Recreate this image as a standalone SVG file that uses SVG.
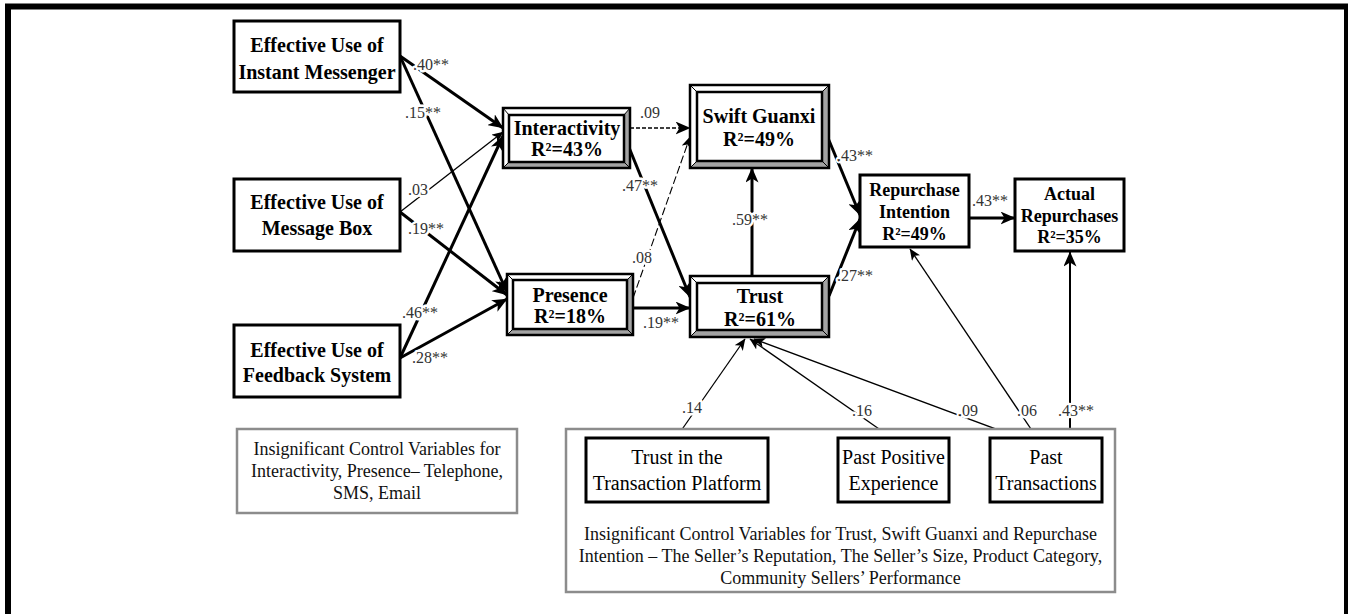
<svg xmlns="http://www.w3.org/2000/svg" width="1348" height="614" viewBox="0 0 1348 614">
<style>
.box{fill:#fff;stroke:#000;stroke-width:3}
.gbox{fill:#fff;stroke:#8c8c8c;stroke-width:2.5}
.bandg{fill:#a3a3a3;stroke:none}
.bandw{fill:#fff;stroke:none}
.bo{fill:none;stroke:#000;stroke-width:2.5}
.bi{fill:#fff;stroke:#000;stroke-width:2.5}
.dg{stroke:#000;stroke-width:1;fill:none}
.tb{font-family:"Liberation Serif",serif;font-weight:bold;font-size:20px;text-anchor:middle;fill:#000}
.tb18{font-family:"Liberation Serif",serif;font-weight:bold;font-size:18px;text-anchor:middle;fill:#000}
.tr{font-family:"Liberation Serif",serif;font-size:20px;text-anchor:middle;fill:#000}
.tc{font-family:"Liberation Serif",serif;font-size:18px;text-anchor:middle;fill:#111}
.lb{font-family:"Liberation Serif",serif;font-size:16px;fill:#333;stroke:#fff;stroke-width:5;stroke-linejoin:round;paint-order:stroke}
.thick{stroke:#000;stroke-width:3;fill:none;marker-end:url(#ah)}
.mid{stroke:#000;stroke-width:2;fill:none;marker-end:url(#ah)}
.thin{stroke:#000;stroke-width:1.3;fill:none;marker-end:url(#as)}
.dash1{stroke:#000;stroke-width:1.6;fill:none;stroke-dasharray:4 2;marker-end:url(#ah)}
.dash2{stroke:#000;stroke-width:1.1;fill:none;stroke-dasharray:8 3;marker-end:url(#as)}
</style>
<defs>
<marker id="ah" markerUnits="userSpaceOnUse" markerWidth="16" markerHeight="13" refX="14.5" refY="6.5" orient="auto">
<path d="M0,0 L15,6.5 L0,13 L4,6.5 Z" fill="#000"/>
</marker>
<marker id="as" markerUnits="userSpaceOnUse" markerWidth="12" markerHeight="10" refX="11" refY="5" orient="auto">
<path d="M0,0 L11.5,5 L0,10 L3,5 Z" fill="#000"/>
</marker>
</defs>
<rect x="0" y="0" width="1348" height="614" fill="#fff"/>
<rect x="8" y="6.5" width="1339" height="700" fill="none" stroke="#000" stroke-width="6"/>

<g id="connectors">
<path class="thick" d="M400,56 L503,128"/>
<path class="thick" d="M400,56 L507,292"/>
<path class="thin" d="M400,212 L503,132"/>
<path class="thick" d="M400,212 L507,295"/>
<path class="thick" d="M400,358 L503,136"/>
<path class="thick" d="M400,358 L507,299"/>
<path class="dash1" d="M630,128 L690,128"/>
<path class="thick" d="M628,145 L690,297"/>
<path class="dash2" d="M633,298 L690,137"/>
<path class="thick" d="M633,308 L690,308"/>
<path class="thick" d="M752,276 L752,168"/>
<path class="thick" d="M828,138 L860,215"/>
<path class="thick" d="M829,296 L860,219"/>
<path class="thick" d="M969,218 L1015,218"/>
<path class="thin" d="M676,438 L745,339"/>
<path class="thin" d="M892,438 L750,339"/>
<path class="thin" d="M1020,438 L754,339"/>
<path class="thin" d="M1037,438 L910,249"/>
<path class="mid" d="M1070,438 L1070,252"/>
<text class="lb" x="413" y="70">.40**</text>
<text class="lb" x="405" y="118">.15**</text>
<text class="lb" x="408" y="195">.03</text>
<text class="lb" x="408" y="234">.19**</text>
<text class="lb" x="402" y="318">.46**</text>
<text class="lb" x="412" y="363">.28**</text>
<text class="lb" x="640" y="118">.09</text>
<text class="lb" x="622" y="191">.47**</text>
<text class="lb" x="632" y="263">.08</text>
<text class="lb" x="643" y="328">.19**</text>
<text class="lb" x="732" y="225">.59**</text>
<text class="lb" x="837" y="161">.43**</text>
<text class="lb" x="837" y="281">.27**</text>
<text class="lb" x="972" y="206">.43**</text>
<text class="lb" x="682" y="413">.14</text>
<text class="lb" x="852" y="416">.16</text>
<text class="lb" x="958" y="416">.09</text>
<text class="lb" x="1017" y="416">.06</text>
<text class="lb" x="1058" y="416">.43**</text>
</g>

<g id="im">
<rect class="box" x="234" y="21" width="166" height="71"/>
<text class="tb" x="317" y="52">Effective Use of</text>
<text class="tb" x="317" y="79">Instant Messenger</text>
</g>
<g id="mb">
<rect class="box" x="234" y="179" width="166" height="72"/>
<text class="tb" x="317" y="209">Effective Use of</text>
<text class="tb" x="317" y="235">Message Box</text>
</g>
<g id="fb">
<rect class="box" x="234" y="325" width="166" height="72"/>
<text class="tb" x="317" y="357">Effective Use of</text>
<text class="tb" x="317" y="382">Feedback System</text>
</g>

<g id="interactivity">
<rect class="bandg" x="503" y="108" width="127" height="60"/>
<polygon class="bandw" points="503,108 630,108 624,115 509,115 509,162 503,168"/>
<rect class="bo" x="503" y="108" width="127" height="60"/>
<path class="dg" d="M503,108 L509,115 M630,108 L624,115 M630,168 L624,162 M503,168 L509,162"/>
<rect class="bi" x="509" y="115" width="115" height="47"/>
<text class="tb" x="567" y="135">Interactivity</text>
<text class="tb" x="567" y="156">R²=43%</text>
</g>
<g id="swiftguanxi">
<rect class="bandg" x="690" y="85" width="139" height="83"/>
<polygon class="bandw" points="690,85 829,85 822,92 697,92 697,161 690,168"/>
<rect class="bo" x="690" y="85" width="139" height="83"/>
<path class="dg" d="M690,85 L697,92 M829,85 L822,92 M829,168 L822,161 M690,168 L697,161"/>
<rect class="bi" x="697" y="92" width="125" height="69"/>
<text class="tb" x="759" y="123">Swift Guanxi</text>
<text class="tb" x="759" y="146">R²=49%</text>
</g>
<g id="presence">
<rect class="bandg" x="507" y="274" width="126" height="61"/>
<polygon class="bandw" points="507,274 633,274 627,280 513,280 513,329 507,335"/>
<rect class="bo" x="507" y="274" width="126" height="61"/>
<path class="dg" d="M507,274 L513,280 M633,274 L627,280 M633,335 L627,329 M507,335 L513,329"/>
<rect class="bi" x="513" y="280" width="114" height="49"/>
<text class="tb" x="570" y="302">Presence</text>
<text class="tb" x="570" y="323">R²=18%</text>
</g>
<g id="trust">
<rect class="bandg" x="690" y="276" width="139" height="61"/>
<polygon class="bandw" points="690,276 829,276 822,283 697,283 697,330 690,337"/>
<rect class="bo" x="690" y="276" width="139" height="61"/>
<path class="dg" d="M690,276 L697,283 M829,276 L822,283 M829,337 L822,330 M690,337 L697,330"/>
<rect class="bi" x="697" y="283" width="125" height="47"/>
<text class="tb" x="760" y="303">Trust</text>
<text class="tb" x="760" y="326">R²=61%</text>
</g>

<g id="repurchase">
<rect class="box" x="860" y="175" width="109" height="72"/>
<text class="tb18" x="914.5" y="196">Repurchase</text>
<text class="tb18" x="914.5" y="218">Intention</text>
<text class="tb18" x="914.5" y="240">R²=49%</text>
</g>
<g id="actual">
<rect class="box" x="1015" y="179" width="109" height="72"/>
<text class="tb18" x="1069.5" y="200">Actual</text>
<text class="tb18" x="1069.5" y="222">Repurchases</text>
<text class="tb18" x="1069.5" y="243">R²=35%</text>
</g>

<g id="controls-left">
<rect class="gbox" x="237" y="429" width="280" height="84"/>
<text class="tc" x="377" y="455">Insignificant Control Variables for</text>
<text class="tc" x="377" y="477">Interactivity, Presence– Telephone,</text>
<text class="tc" x="377" y="499">SMS, Email</text>
</g>

<g id="controls-right">
<rect class="gbox" x="566" y="429" width="549" height="163"/>
<text class="tc" x="840.5" y="540">Insignificant Control Variables for Trust, Swift Guanxi and Repurchase</text>
<text class="tc" x="840.5" y="562">Intention – The Seller’s Reputation, The Seller’s Size, Product Category,</text>
<text class="tc" x="840.5" y="584">Community Sellers’ Performance</text>
</g>

<g id="trust-platform">
<rect class="box" x="586" y="438" width="182" height="64"/>
<text class="tr" x="677" y="464">Trust in the</text>
<text class="tr" x="677" y="490">Transaction Platform</text>
</g>
<g id="past-positive">
<rect class="box" x="838" y="438" width="111" height="64"/>
<text class="tr" x="893.5" y="464">Past Positive</text>
<text class="tr" x="893.5" y="490">Experience</text>
</g>
<g id="past-transactions">
<rect class="box" x="990" y="438" width="112" height="64"/>
<text class="tr" x="1046" y="464">Past</text>
<text class="tr" x="1046" y="490">Transactions</text>
</g>
</svg>
